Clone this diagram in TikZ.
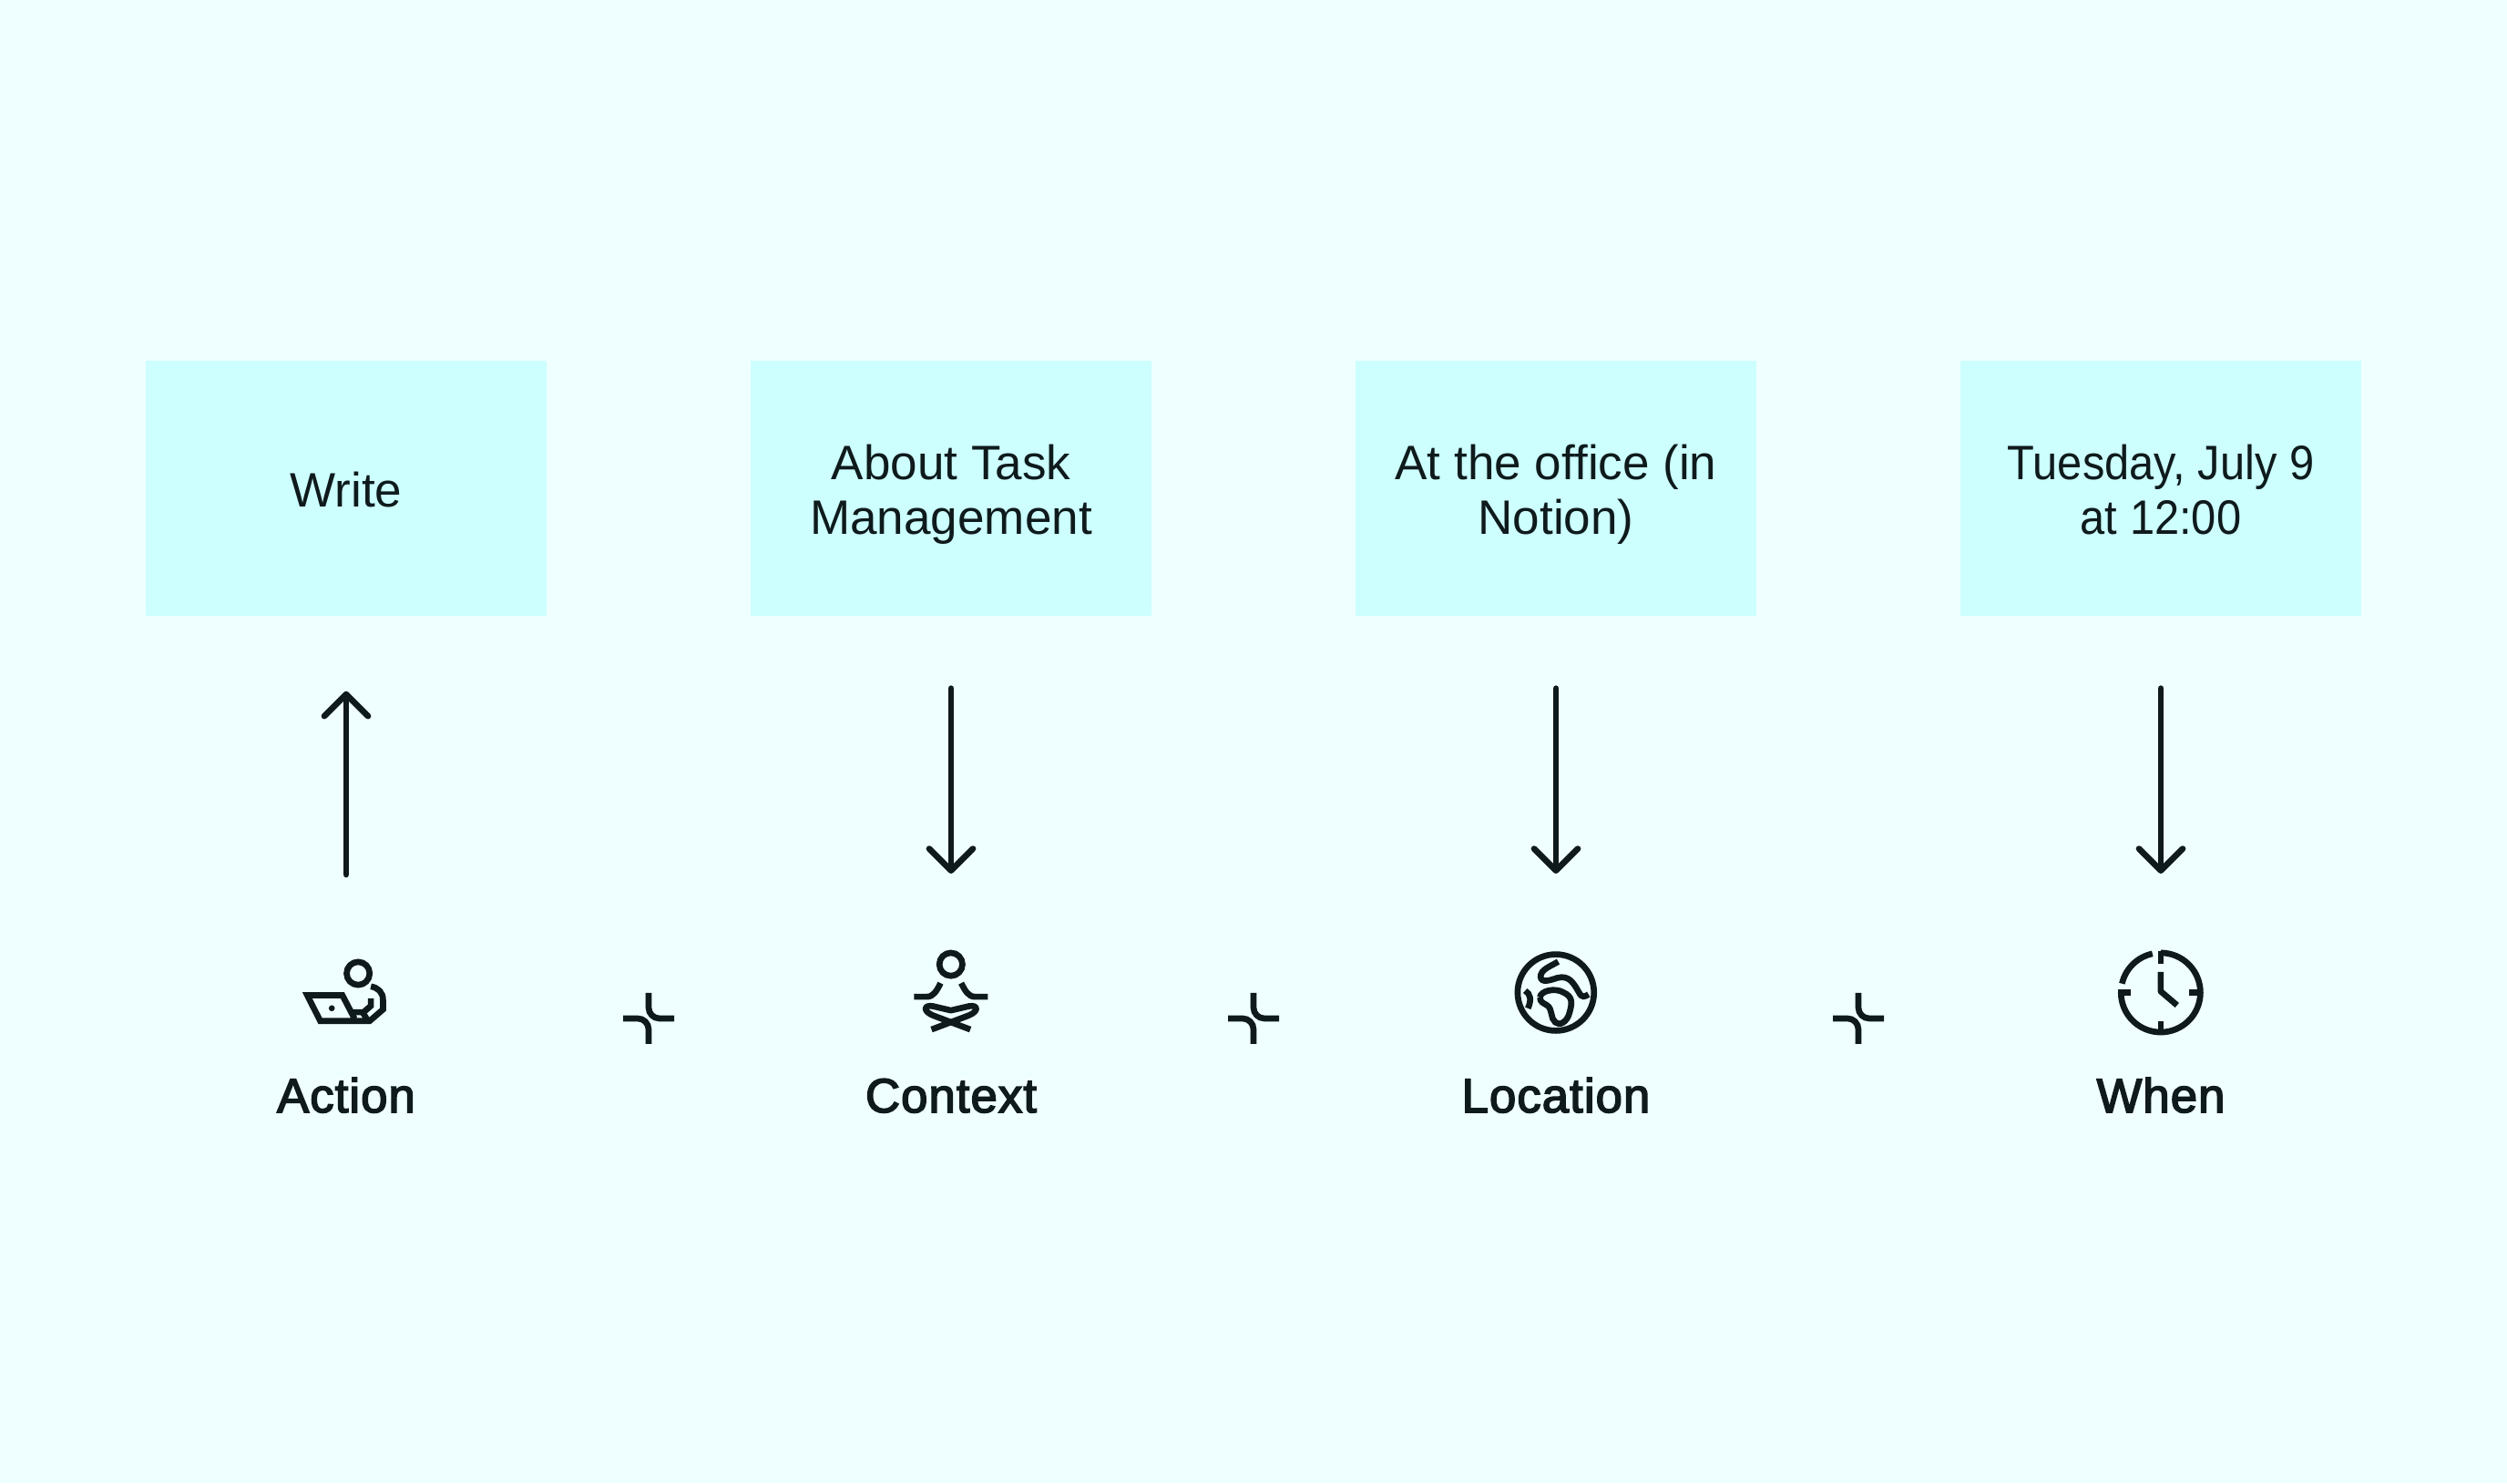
\documentclass[tikz,border=0pt]{standalone}
\usepackage{fontspec}
\setmainfont{Liberation Sans}
\newfontfamily\tightfont[FakeStretch=0.92]{Liberation Sans}
\newfontfamily\labelfont[FakeBold=3,LetterSpace=2]{Liberation Sans}
\usepackage{xcolor}
\usetikzlibrary{calc,arrows.meta}
\definecolor{pagebg}{RGB}{239, 255, 255}
\definecolor{boxbg}{RGB}{204, 255, 254}
\definecolor{inkdark}{RGB}{15, 26, 28}

\tikzset{
  textbox/.style={fill=boxbg, minimum width=4.4cm, minimum height=2.8cm, inner sep=0pt, align=center,
    text=inkdark, font=\fontsize{15.1}{17.1}\selectfont,
    execute at begin node=\rule{0pt}{15pt},
    execute at end node=\rule[-3.4pt]{0pt}{3.4pt}},
  twoline/.style={execute at begin node=\rule{0pt}{32.4pt}},
  steplabel/.style={anchor=base, inner sep=0pt, text=inkdark, font=\fontsize{15}{17}\selectfont\labelfont},
  linkarrow/.style={draw=inkdark, line width=1.9pt, line cap=round,
    -{Straight Barb[round, length=0.24cm, width=0.48cm]}},
  iconline/.style={draw=inkdark, line width=1.9pt},
  iconframe/.style={xscale=0.00333, yscale=-0.00333},
  plusmark/.pic={
    \draw[draw=inkdark, line width=1.9pt] (0,0.28) -- (0,0.12) to[out=-90,in=180] (0.12,0) -- (0.28,0);
    \draw[draw=inkdark, line width=1.9pt] (-0.28,0) -- (-0.12,0) to[out=0,in=90] (0,-0.12) -- (0,-0.28);
  }
}

\begin{document}
\begin{tikzpicture}
\fill[pagebg] (0,0) rectangle (27.52,16.28);
\useasboundingbox (0,0) rectangle (27.52,16.28);

% boxes
\node[textbox] (boxA) at (3.80,10.92) {Write};
\node[textbox, twoline] (boxB) at (10.44,10.92) {About Task\\Management};
\node[textbox, twoline] (boxC) at (17.08,10.92) {At the office (in\\Notion)};
\node[textbox, twoline, font=\fontsize{15.1}{17.1}\selectfont\tightfont] (boxD) at (23.72,10.92) {Tuesday, July 9\\at 12:00};

% labels
\node[steplabel] (labelA) at (3.80,4.07) {Action};
\node[steplabel] (labelB) at (10.44,4.07) {Context};
\node[steplabel] (labelC) at (17.08,4.07) {Location};
\node[steplabel] (labelD) at (23.72,4.07) {When};

% arrow ends
\coordinate (endA) at (3.80,6.68);
\coordinate (endB) at (10.44,6.69);
\coordinate (endC) at (17.08,6.69);
\coordinate (endD) at (23.72,6.69);

\draw[linkarrow, shorten >=0.82cm] (endA) -- (boxA.south);
\draw[linkarrow, shorten <=0.79cm] (boxB.south) -- (endB);
\draw[linkarrow, shorten <=0.79cm] (boxC.south) -- (endC);
\draw[linkarrow, shorten <=0.79cm] (boxD.south) -- (endD);

% plus signs
\pic at (7.12,5.10) {plusmark};
\pic at (13.76,5.10) {plusmark};
\pic at (20.40,5.10) {plusmark};

% laptop
\begin{scope}[shift={(3.00,6.27)}, iconframe]
\draw[iconline] (280,203) circle (38);
\draw[iconline, line join=miter] (268,352) -- (228,275) -- (112,275) -- (155,360) -- (318,360) -- (362,322) -- (362,290) .. controls (362,265) and (345,250) .. (322,246);
\draw[iconline, line join=miter] (322,285) -- (322,310) -- (298,331) -- (258,331);
\draw[iconline] (296,333) -- (310,356);
\fill[inkdark] (193,318) circle (10);
\end{scope}

% person
\begin{scope}[shift={(9.60,6.17)}, iconframe]
\draw[iconline] (252,143) circle (38);
\draw[iconline] (130,250) -- (172,250) .. controls (195,250) and (205,230) .. (218,205);
\draw[iconline] (374,250) -- (332,250) .. controls (309,250) and (299,230) .. (286,205);
\draw[iconline, line join=round] (188,358) -- (310,312) .. controls (345,298) and (342,276) .. (312,281) -- (252,295) -- (192,281) .. controls (162,276) and (159,298) .. (194,312) -- (316,358);
\end{scope}

% globe
\begin{scope}[shift={(16.20,6.17)}, iconframe]
\draw[iconline] (264,236) circle (126);
\draw[iconline] (272,134) .. controls (250,148) and (212,160) .. (214,185) .. controls (216,205) and (245,196) .. (268,188) .. controls (310,176) and (325,210) .. (340,235) .. controls (350,255) and (360,250) .. (372,242);
\draw[iconline] (212,252) .. controls (212,232) and (260,218) .. (290,236) .. controls (320,250) and (318,270) .. (310,300) .. controls (302,335) and (275,347) .. (262,334) .. controls (245,320) and (255,292) .. (235,278) .. controls (222,270) and (212,268) .. (212,252);
\draw[iconline] (163,230) .. controls (180,240) and (185,260) .. (172,288);
\end{scope}

% clock
\begin{scope}[shift={(22.80,6.17)}, iconframe]
\draw[iconline] (276,105) arc (-90:180:131);
\draw[iconline] (248.8,107.9) arc (-102:-167:131);
\draw[iconline] (276,98) -- (276,142);
\draw[iconline] (136,236) -- (178,236);
\draw[iconline] (370,236) -- (415,236);
\draw[iconline] (276,330) -- (276,375);
\draw[iconline, line join=round] (276,168) -- (276,232) -- (330,278);
\end{scope}
\end{tikzpicture}
\end{document}
